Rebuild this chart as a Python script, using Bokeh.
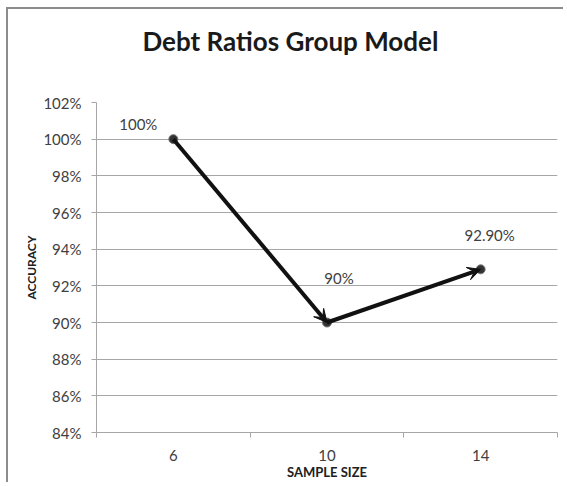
from bokeh.plotting import figure
from bokeh.models import (Range1d, FixedTicker, ColumnDataSource, Arrow, VeeHead,
                          PrintfTickFormatter, LabelSet, Title)
from bokeh.core.properties import value
from bokeh.embed import file_html
from bokeh.resources import INLINE

title = "Debt Ratios Group Model"
categories = ["6", "10", "14"]
accuracy = [100, 90, 92.9]
point_labels = ["100%", "90%", "92.90%"]
y_ticks = [84, 86, 88, 90, 92, 94, 96, 98, 100, 102]

xs = [i + 0.5 for i in range(len(categories))]

p = figure(width=557, height=475, output_backend="svg", toolbar_location=None,
           x_range=Range1d(0, len(categories)), y_range=Range1d(84, 102),
           min_border_left=90, min_border_right=6, min_border_top=95, min_border_bottom=50,
           styles={"margin-left": "6px", "margin-top": "7px",
                   "box-shadow": "inset 2px 2px 0px 0px #8c8c8c"})
p.title = None
p.outline_line_color = None
p.background_fill_color = "white"
p.border_fill_color = None

grey = "#a6a6a6"
txt = "#404040"

# empty spacer between frame and title
p.add_layout(Title(text=" ", text_font_size="10px", standoff=33), "above")
p.add_layout(Title(text=title, align="left", offset=46, text_font="Lato", text_font_style="bold",
                   text_font_size="26px", text_color="#1a1a1a", vertical_align="bottom",
                   standoff=0), "above")

# y axis
p.yaxis.ticker = FixedTicker(ticks=y_ticks, minor_ticks=[])
p.yaxis.formatter = PrintfTickFormatter(format="%d%%")
p.yaxis.axis_line_color = grey
p.yaxis.major_tick_line_color = grey
p.yaxis.major_tick_out = 5
p.yaxis.major_tick_in = 0
p.yaxis.major_label_standoff = 10
p.yaxis.major_label_text_font = "Lato"
p.yaxis.major_label_text_font_size = "15px"
p.yaxis.major_label_text_color = txt
p.yaxis.axis_label = "ACCURACY"
p.yaxis.axis_label_text_font = "Lato"
p.yaxis.axis_label_text_font_style = "bold"
p.yaxis.axis_label_text_font_size = "12px"
p.yaxis.axis_label_text_color = "#202020"
p.yaxis.axis_label_standoff = 1

# x axis
p.xaxis.ticker = FixedTicker(ticks=xs, minor_ticks=list(range(len(categories) + 1)))
p.xaxis.major_label_overrides = {x: c for x, c in zip(xs, categories)}
p.xaxis.axis_line_color = grey
p.xaxis.major_tick_line_color = None
p.xaxis.minor_tick_line_color = grey
p.xaxis.minor_tick_out = 5
p.xaxis.minor_tick_in = 0
p.xaxis.major_label_standoff = 11
p.xaxis.major_label_text_font = "Lato"
p.xaxis.major_label_text_font_size = "15px"
p.xaxis.major_label_text_color = txt
p.xaxis.axis_label = "SAMPLE SIZE"
p.xaxis.axis_label_text_font = "Lato"
p.xaxis.axis_label_text_font_style = "bold"
p.xaxis.axis_label_text_font_size = "13px"
p.xaxis.axis_label_text_color = "#202020"
p.xaxis.axis_label_standoff = 0

p.xgrid.visible = False
p.ygrid.ticker = FixedTicker(ticks=y_ticks)
p.ygrid.grid_line_color = grey

# arrows between consecutive points
arr_src = ColumnDataSource(dict(x0=xs[:-1], y0=accuracy[:-1], x1=xs[1:], y1=accuracy[1:]))
p.add_layout(Arrow(source=arr_src, x_start="x0", y_start="y0", x_end="x1", y_end="y1",
                   line_color="#111111", line_width=4,
                   end=VeeHead(size=13, fill_color="#111111", line_color="#111111", line_width=1)))

p.scatter(xs, accuracy, size=9, fill_color="#333333", line_color="#777777", line_width=1)

lab_src = ColumnDataSource(dict(x=xs, y=accuracy, t=point_labels,
                                dx=[-35, 12, 9], dy=[15, 45, 34]))
p.add_layout(LabelSet(source=lab_src, x="x", y="y", text="t", x_offset="dx", y_offset="dy",
                      text_align="center", text_baseline="middle",
                      text_font=value("Lato"), text_font_size="15px", text_color=txt))

open("out.html", "w").write(file_html(p, INLINE))
